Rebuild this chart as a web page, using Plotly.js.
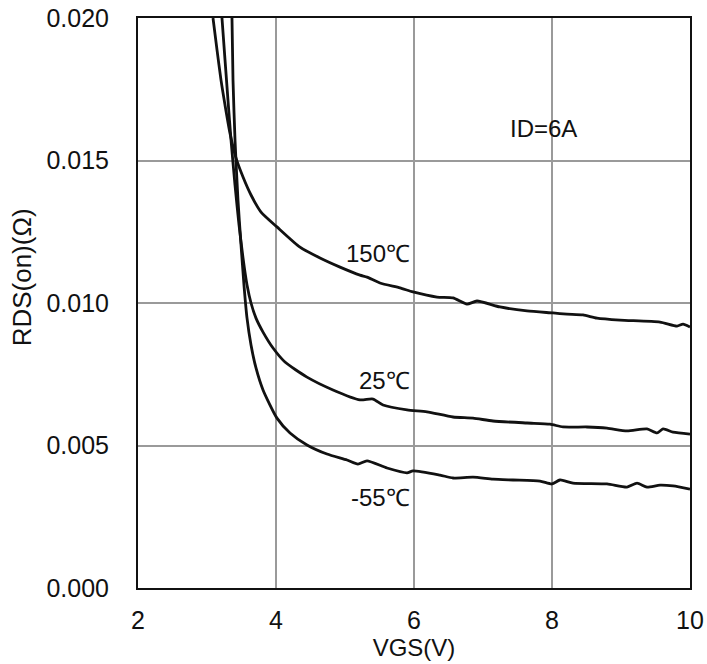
<!DOCTYPE html>
<html>
<head>
<meta charset="utf-8">
<script src="https://cdn.plot.ly/plotly-3.0.1.min.js"></script>
<style>html,body{margin:0;padding:0;background:#fff;}#chart{width:707px;height:664px;}</style>
</head>
<body>
<div id="chart"></div>
<script>
// VGS (V) and RDS(on) (Ohm)
var vgs150 = [3.087,3.145,3.203,3.261,3.333,3.420,3.522,3.638,3.783,4.014,4.348,4.638,4.928,5.217,5.319,5.507,5.797,5.986,6.333,6.565,6.768,6.913,7.246,7.638,8.014,8.217,8.449,8.652,8.986,9.565,9.812,9.899,10.0];
var rds150 = [0.0200,0.01888,0.01782,0.01695,0.01596,0.01509,0.01442,0.01379,0.01319,0.01267,0.01196,0.01158,0.01126,0.01098,0.01091,0.01070,0.01053,0.01039,0.01021,0.01018,0.00996,0.01007,0.00986,0.00972,0.00965,0.00961,0.00958,0.00947,0.00940,0.00933,0.00919,0.00926,0.00916];

var vgs25 = [3.217,3.261,3.304,3.348,3.406,3.464,3.522,3.580,3.638,3.710,3.812,3.957,4.130,4.449,4.826,5.217,5.406,5.551,5.899,6.188,6.565,6.855,7.145,7.638,7.971,8.159,8.507,8.797,9.087,9.377,9.522,9.609,9.754,10.0];
var rds25 = [0.0200,0.01853,0.01712,0.01572,0.01414,0.01274,0.01158,0.01063,0.01000,0.00947,0.00898,0.00842,0.00793,0.00740,0.00695,0.00660,0.00663,0.00642,0.00625,0.00618,0.00600,0.00596,0.00586,0.00579,0.00575,0.00565,0.00565,0.00561,0.00551,0.00558,0.00544,0.00558,0.00547,0.00540];

var vgsM55 = [3.362,3.377,3.406,3.449,3.493,3.536,3.580,3.638,3.710,3.812,4.014,4.203,4.449,4.739,5.029,5.188,5.319,5.609,5.899,5.986,6.377,6.565,6.855,7.145,7.435,7.826,8.0,8.116,8.304,8.797,9.087,9.232,9.377,9.565,9.754,10.0];
var rdsM55 = [0.0200,0.01782,0.01572,0.01361,0.01204,0.01063,0.00947,0.00853,0.00772,0.00695,0.00596,0.00544,0.00502,0.00470,0.00449,0.00435,0.00446,0.00421,0.00404,0.00411,0.00396,0.00386,0.00389,0.00382,0.00379,0.00375,0.00365,0.00379,0.00368,0.00365,0.00354,0.00368,0.00354,0.00361,0.00358,0.00347];

var curveLabels = ['150\u2103', '25\u2103', '-55\u2103'];
var labelX = [5.97, 5.97, 5.97];
var labelY = [0.01172, 0.00727, 0.00319];
var noteText = 'ID=6A';
var yTitleText = 'RDS(on)(\u03A9)';
var xTicks = [2, 4, 6, 8, 10];
var yTicks = [0.000, 0.005, 0.010, 0.015, 0.020];

var FONT = 'Arial, "Liberation Sans", sans-serif';
var lineStyle = {color: '#111', width: 2.8, shape: 'spline', smoothing: 0.6};

var traces = [
  {x: vgs150, y: rds150, name: curveLabels[0]},
  {x: vgs25, y: rds25, name: curveLabels[1]},
  {x: vgsM55, y: rdsM55, name: curveLabels[2]}
].map(function (t) {
  t.type = 'scatter'; t.mode = 'lines'; t.line = lineStyle; t.hoverinfo = 'skip';
  return t;
});

var annotations = curveLabels.map(function (txt, i) {
  return {x: labelX[i], y: labelY[i], xref: 'x', yref: 'y', text: txt, showarrow: false,
          xanchor: 'right', yanchor: 'middle', font: {family: FONT, size: 24, color: '#111'}};
});
annotations.push({x: 7.87, y: 0.01614, xref: 'x', yref: 'y', text: noteText, showarrow: false,
  xanchor: 'center', yanchor: 'middle', font: {family: FONT, size: 24, color: '#111'}});
// y-axis title, placed as in the reference (slightly above the plot's middle)
annotations.push({x: 22, y: 0.0109, xref: 'paper', yref: 'y', text: yTitleText, showarrow: false,
  textangle: -90, xanchor: 'center', yanchor: 'middle', font: {family: FONT, size: 26, color: '#111'}});

var layout = {
  width: 707, height: 664,
  margin: {l: 138, r: 17, t: 18, b: 76, pad: 0},
  paper_bgcolor: '#fff', plot_bgcolor: '#fff',
  showlegend: false,
  font: {family: FONT, size: 24, color: '#111'},
  xaxis: {
    range: [2, 10], tickvals: xTicks, ticktext: xTicks.map(String),
    showgrid: true, gridcolor: '#9a9a9a', gridwidth: 2,
    showline: true, mirror: true, linecolor: '#111', linewidth: 2,
    zeroline: false, ticks: '', ticklabelstandoff: 9,
    tickfont: {family: FONT, size: 25, color: '#111'},
    title: {text: 'VGS(V)', font: {family: FONT, size: 24, color: '#111'}, standoff: 0}
  },
  yaxis: {
    range: [0, 0.020], tickvals: yTicks, ticktext: yTicks.map(function (v) { return v.toFixed(3); }),
    showgrid: true, gridcolor: '#9a9a9a', gridwidth: 2,
    showline: true, mirror: true, linecolor: '#111', linewidth: 2,
    zeroline: false, ticks: '', ticklabelstandoff: 22,
    tickfont: {family: FONT, size: 25, color: '#111'}
  },
  annotations: annotations
};

Plotly.newPlot('chart', traces, layout, {staticPlot: true, displayModeBar: false});

// place the y-axis title annotation at an absolute pixel x (paper coords from pixels)
(function () {
  var gd = document.getElementById('chart');
  var fl = gd._fullLayout;
  var pxX = 22;
  var paperX = (pxX - fl.margin.l) / fl._size.w;
  var idx = annotations.length - 1;
  var upd = {};
  upd['annotations[' + idx + '].x'] = paperX;
  Plotly.relayout(gd, upd);
})();
</script>
</body>
</html>
